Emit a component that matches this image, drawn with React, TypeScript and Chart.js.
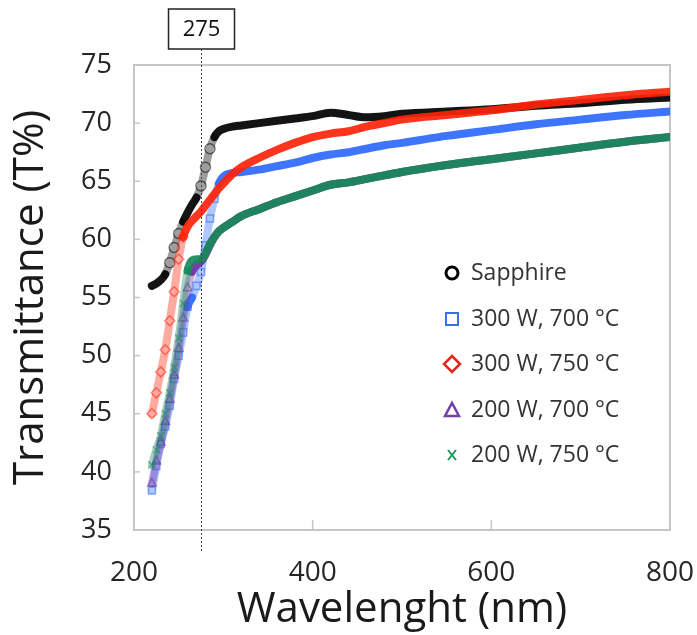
import React, { useEffect, useRef } from "react";
import { Chart, registerables } from "chart.js";

Chart.register(...registerables);

// ---- data ----
const wavelengths = [
  220, 225, 230, 235, 240, 245, 250, 255, 260, 265, 270, 275, 280, 285, 290, 295, 300,
  310, 320, 340, 360, 380, 400, 420, 440, 460, 480, 500, 550, 600, 650, 700, 750, 800,
];
const sapphire = [
  56.0, 56.2, 56.5, 57.0, 58.0, 59.3, 60.5, 61.5, 62.3, 63.0, 63.6, 64.6, 66.2, 67.8, 68.8, 69.3, 69.5,
  69.7, 69.8, 70.0, 70.2, 70.4, 70.6, 70.9, 70.7, 70.5, 70.6, 70.8, 71.0, 71.2, 71.5, 71.7, 72.0, 72.2,
];
const w300t700 = [
  38.4, 40.5, 42.4, 43.9, 45.7, 48.0, 50.0, 52.0, 54.2, 55.0, 56.0, 57.2, 59.5, 61.8, 63.5, 64.8, 65.4,
  65.7, 65.8, 66.0, 66.3, 66.6, 67.0, 67.3, 67.5, 67.8, 68.1, 68.3, 68.9, 69.4, 69.9, 70.3, 70.7, 71.0,
];
const w300t750 = [
  45.0, 46.8, 48.6, 50.5, 53.0, 55.5, 58.3, 60.2, 61.1, 61.6, 62.0, 62.4, 62.9, 63.4, 63.9, 64.4, 64.8,
  65.6, 66.2, 67.0, 67.7, 68.3, 68.8, 69.1, 69.3, 69.7, 70.0, 70.3, 70.7, 71.1, 71.6, 72.0, 72.4, 72.7,
];
const w200t700 = [
  39.0, 40.9, 42.5, 44.3, 46.2, 48.3, 50.6, 53.2, 55.8, 57.2, 57.8, 58.1, 58.7, 59.5, 60.2, 60.7, 61.0,
  61.5, 62.0, 62.6, 63.2, 63.7, 64.2, 64.7, 64.9, 65.2, 65.5, 65.8, 66.4, 66.9, 67.4, 67.9, 68.4, 68.8,
];
const w200t750 = [
  40.6, 41.9, 43.1, 45.0, 46.8, 49.0, 51.5, 54.5, 57.3, 58.2, 58.3, 58.3, 58.8, 59.6, 60.2, 60.7, 61.0,
  61.5, 62.0, 62.6, 63.2, 63.7, 64.2, 64.7, 64.9, 65.2, 65.5, 65.8, 66.4, 66.9, 67.4, 67.9, 68.4, 68.8,
];
const seriesLabels = ["Sapphire", "300 W, 700 °C", "300 W, 750 °C", "200 W, 700 °C", "200 W, 750 °C"];
const xTickValues = [200, 400, 600, 800];
const yMin = 35;
const yMax = 75;
const yStep = 5;
const markedWavelength = 275;
const markedLabel = "275";

// ---- styles ----
const FONT = "'Open Sans', Lato, sans-serif";
type Style = { rgb: string; marker: string };
const styles: Style[] = [
  { rgb: "0,0,0", marker: "circle" },
  { rgb: "45,105,255", marker: "rect" },
  { rgb: "255,35,10", marker: "rectRot" },
  { rgb: "112,48,160", marker: "triangle" },
  { rgb: "25,138,90", marker: "crossRot" },
];
const legendColors = ["#000000", "#3a6fe8", "#e8231a", "#7040a8", "#1a9a5a"];

function steepAt(values: number[], i: number) {
  const a = Math.max(0, i - 1);
  const b = Math.min(values.length - 1, i + 1);
  const s = Math.abs((values[b] - values[a]) / (wavelengths[b] - wavelengths[a]));
  return s > 0.2;
}

function makeDataset(idx: number, values: number[]) {
  const st = styles[idx];
  return {
    label: seriesLabels[idx],
    data: wavelengths.map((x, i) => ({ x, y: values[i] })),
    borderColor: `rgba(${st.rgb},0.92)`,
    borderWidth: 8,
    borderCapStyle: "round",
    borderJoinStyle: "round",
    cubicInterpolationMode: "monotone",
    pointStyle: st.marker,
    pointRadius: (c: any) => (steepAt(values, c.dataIndex) ? 5 : 0),
    pointBorderWidth: 1.5,
    pointBorderColor: `rgba(${st.rgb},0.55)`,
    pointBackgroundColor: "rgba(255,255,255,0)",
    segment: {
      borderColor: (c: any) => {
        const dx = Math.abs(c.p1.x - c.p0.x) || 1;
        const dy = Math.abs(c.p1.y - c.p0.y);
        return dy / dx > 2.6 ? `rgba(${st.rgb},0.38)` : `rgba(${st.rgb},0.92)`;
      },
    },
  };
}

function drawMarker(ctx: CanvasRenderingContext2D, kind: string, x: number, y: number, color: string) {
  ctx.save();
  ctx.strokeStyle = color;
  ctx.lineJoin = "miter";
  ctx.beginPath();
  if (kind === "circle") {
    ctx.lineWidth = 3;
    ctx.arc(x, y, 6, 0, Math.PI * 2);
  } else if (kind === "rect") {
    ctx.lineWidth = 2;
    ctx.rect(x - 6, y - 6, 12, 12);
  } else if (kind === "rectRot") {
    ctx.lineWidth = 2.5;
    ctx.moveTo(x, y - 8);
    ctx.lineTo(x + 8, y);
    ctx.lineTo(x, y + 8);
    ctx.lineTo(x - 8, y);
    ctx.closePath();
  } else if (kind === "triangle") {
    ctx.lineWidth = 2.5;
    ctx.moveTo(x, y - 7);
    ctx.lineTo(x + 7, y + 6);
    ctx.lineTo(x - 7, y + 6);
    ctx.closePath();
  } else {
    ctx.lineWidth = 2;
    ctx.moveTo(x - 4, y - 5);
    ctx.lineTo(x + 4, y + 5);
    ctx.moveTo(x + 4, y - 5);
    ctx.lineTo(x - 4, y + 5);
  }
  ctx.stroke();
  ctx.restore();
}

const decorPlugin = {
  id: "decor",
  beforeDatasetsDraw(chart: any) {
    const { ctx, chartArea } = chart;
    const xs = chart.scales.x;
    const ys = chart.scales.y;
    ctx.save();
    ctx.strokeStyle = "#c6c6c6";
    ctx.lineWidth = 1.5;
    ys.ticks.forEach((t: any) => {
      if (t.value === yMin || t.value === yMax) return;
      const py = ys.getPixelForValue(t.value);
      ctx.beginPath();
      ctx.moveTo(chartArea.left, py);
      ctx.lineTo(chartArea.left + 6, py);
      ctx.stroke();
    });
    xs.ticks.forEach((t: any) => {
      if (t.value === xTickValues[0] || t.value === xTickValues[xTickValues.length - 1]) return;
      const px = xs.getPixelForValue(t.value);
      ctx.beginPath();
      ctx.moveTo(px, chartArea.bottom);
      ctx.lineTo(px, chartArea.bottom - 10);
      ctx.stroke();
    });
    ctx.lineWidth = 2;
    ctx.strokeRect(chartArea.left, chartArea.top, chartArea.right - chartArea.left, chartArea.bottom - chartArea.top);
    ctx.restore();
  },
  afterDatasetsDraw(chart: any) {
    const { ctx, chartArea } = chart;
    const xs = chart.scales.x;
    const px = Math.round(xs.getPixelForValue(markedWavelength)) + 0.5;
    ctx.save();
    ctx.strokeStyle = "#444";
    ctx.lineWidth = 1;
    ctx.setLineDash([2, 2]);
    ctx.beginPath();
    ctx.moveTo(px, 49);
    ctx.lineTo(px, chartArea.bottom + 22);
    ctx.stroke();
    ctx.setLineDash([]);
    const bw = 66;
    const bh = 40;
    ctx.fillStyle = "#fff";
    ctx.fillRect(px - bw / 2, 9, bw, bh);
    ctx.strokeStyle = "#222";
    ctx.lineWidth = 1.5;
    ctx.strokeRect(px - bw / 2, 9, bw, bh);
    ctx.fillStyle = "#111";
    ctx.font = `22px ${FONT}`;
    ctx.textAlign = "center";
    ctx.textBaseline = "middle";
    ctx.fillText(markedLabel, px, 30);
    ctx.restore();
  },
  afterDraw(chart: any) {
    const { ctx } = chart;
    const rowsY = [273, 319, 364, 410, 455];
    ctx.save();
    seriesLabels.forEach((label, i) => {
      drawMarker(ctx, styles[i].marker, 452, rowsY[i], legendColors[i]);
      ctx.fillStyle = "#333";
      ctx.font = `23px ${FONT}`;
      ctx.textAlign = "left";
      ctx.textBaseline = "middle";
      ctx.fillText(label, 471, rowsY[i]);
    });
    ctx.restore();
  },
};

export default function App() {
  const canvasRef = useRef<HTMLCanvasElement | null>(null);

  useEffect(() => {
    document.body.style.margin = "0";
    const canvas = canvasRef.current;
    if (!canvas) return;
    const datasets = [
      makeDataset(4, w200t750),
      makeDataset(3, w200t700),
      makeDataset(2, w300t750),
      makeDataset(1, w300t700),
      makeDataset(0, sapphire),
    ];
    const chart = new Chart(canvas, {
      type: "line",
      data: { datasets: datasets as any },
      plugins: [decorPlugin as any],
      options: {
        animation: false,
        responsive: false,
        maintainAspectRatio: false,
        layout: { padding: { top: 65, right: 0, left: 0, bottom: 0 } },
        plugins: { legend: { display: false }, tooltip: { enabled: false } },
        scales: {
          x: {
            type: "linear",
            min: 200,
            max: 800,
            afterBuildTicks: (s: any) => {
              s.ticks = xTickValues.map((v) => ({ value: v }));
            },
            afterFit: (s: any) => {
              s.height = 105;
              s.paddingRight = 27;
            },
            grid: { display: false, drawTicks: false },
            border: { display: false },
            ticks: {
              padding: 26,
              color: "#262626",
              font: { family: FONT, size: 28 },
              maxRotation: 0,
            },
            title: {
              display: true,
              text: "Wavelenght (nm)",
              color: "#1a1a1a",
              font: { family: FONT, size: 42 },
              padding: { top: -12, bottom: 0 },
            },
          },
          y: {
            type: "linear",
            min: yMin,
            max: yMax,
            ticks: {
              stepSize: yStep,
              padding: 22,
              color: "#262626",
              font: { family: FONT, size: 27 },
            },
            afterFit: (s: any) => {
              s.width = 134;
            },
            grid: { display: false, drawTicks: false },
            border: { display: false },
            title: {
              display: true,
              text: "Transmittance (T%)",
              color: "#1a1a1a",
              font: { family: FONT, size: 42 },
              padding: { top: 6, bottom: 0 },
            },
          },
        },
      },
    });
    return () => chart.destroy();
  }, []);

  return (
    <div style={{ width: 697, height: 635, background: "#fff" }}>
      <canvas ref={canvasRef} width={697} height={635} style={{ display: "block" }} />
    </div>
  );
}
